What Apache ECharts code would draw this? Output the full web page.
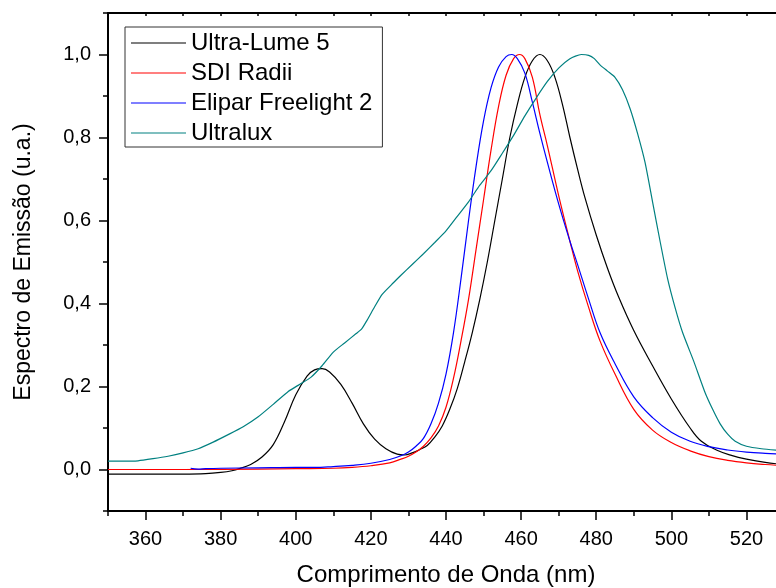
<!DOCTYPE html>
<html>
<head>
<meta charset="utf-8">
<script src="https://cdn.jsdelivr.net/npm/echarts@6/dist/echarts.min.js"></script>
<style>
html,body{margin:0;padding:0;background:#fff;}
#chart{width:776px;height:588px;}
</style>
</head>
<body>
<div id="chart"></div>
<script>
// tick labels
var xTicks = [360,380,400,420,440,460,480,500,520];
var yTicks = [0,0.2,0.4,0.6,0.8,1.0];

// Ultra-Lume 5 (black)
var ultraLumeNm = [350,360,370,376,380,383,385,388,391,394,397,400,403,405,407,409,412,415,418,421,424,427,429,431,433,435,437,439,441,443,445,447,449,451,453,455,457,459,461,463,465,467,469,471,473,475,477,480,483,486,490,495,500,505,508,512,516,520,525,530];
var ultraLumeVal = [-0.011,-0.011,-0.011,-0.01,-0.007,-0.003,0.002,0.012,0.03,0.06,0.115,0.18,0.225,0.24,0.243,0.235,0.205,0.16,0.11,0.073,0.05,0.037,0.035,0.04,0.048,0.058,0.078,0.105,0.145,0.195,0.26,0.33,0.41,0.5,0.6,0.7,0.8,0.88,0.945,0.985,1.0,0.985,0.945,0.88,0.8,0.725,0.655,0.565,0.485,0.415,0.335,0.25,0.17,0.1,0.068,0.047,0.034,0.025,0.017,0.012];

// SDI Radii (red)
var sdiNm = [350,370,390,400,410,415,420,425,428,430,432,434,436,438,440,442,444,446,448,450,452,454,456,458,459.6,461,463,465,467,470,473,475,478,481,485,490,495,500,505,510,515,520,525,530];
var sdiVal = [0,0,0.001,0.002,0.003,0.005,0.009,0.016,0.025,0.032,0.042,0.056,0.076,0.105,0.15,0.22,0.31,0.41,0.53,0.65,0.77,0.875,0.95,0.99,1.0,0.99,0.945,0.855,0.78,0.66,0.55,0.48,0.39,0.31,0.23,0.145,0.095,0.065,0.045,0.031,0.022,0.016,0.012,0.009];

// Elipar Freelight 2 (blue)
var eliparNm = [372,374,376,380,390,400,405,410,415,420,425,428,430,432,434,436,438,440,442,444,446,448,450,452,454,456,457.5,459,461,463,465,467,470,473,475,478,481,485,490,495,500,505,510,515,520,525,530];
var eliparVal = [0.003,0.001,0.002,0.003,0.004,0.005,0.005,0.007,0.01,0.015,0.024,0.033,0.042,0.056,0.075,0.11,0.16,0.23,0.33,0.46,0.6,0.73,0.84,0.92,0.97,0.995,1.0,0.99,0.955,0.885,0.81,0.74,0.64,0.55,0.495,0.41,0.33,0.255,0.175,0.125,0.09,0.068,0.055,0.047,0.042,0.039,0.037];

// Ultralux (teal)
var ultraluxNm = [350,354,358,362,366,370,374,378,382,386,390,394,398,401,404,407,410,413,416,417.5,419,421,423,426,428,431,434,437,440,443,446,449,452,455,458,461,464,467,470,473,476,478,479.5,481,483,485,487,489,491,493,495,497,499,501,503,506,509,511,513,515,517,520,524,530];
var ultraluxVal = [0.02,0.02,0.021,0.026,0.032,0.04,0.05,0.066,0.084,0.103,0.127,0.157,0.188,0.205,0.222,0.25,0.283,0.305,0.327,0.338,0.36,0.392,0.422,0.45,0.468,0.494,0.52,0.547,0.575,0.61,0.645,0.685,0.72,0.762,0.805,0.852,0.895,0.935,0.967,0.99,1.0,0.998,0.99,0.975,0.96,0.945,0.915,0.87,0.81,0.74,0.645,0.55,0.46,0.39,0.33,0.26,0.185,0.145,0.11,0.085,0.068,0.056,0.05,0.045];

function zip(a,b){
  var out=[];
  for(var i=0;i<a.length;i++){ out.push([a[i],b[i]]); }
  return out;
}

var font = 'Liberation Sans, Arial, sans-serif';
var myChart = echarts.init(document.getElementById('chart'));

var option = {
  animation:false,
  backgroundColor:'#fff',
  grid:{left:108, top:13, width:676, height:498, outerBoundsMode:'none', containLabel:false},
  legend:{
    orient:'vertical',
    left:125, top:27,
    padding:[4,10,2,6],
    itemGap:6,
    icon:'rect',
    itemWidth:55, itemHeight:1.2,
    borderColor:'#333', borderWidth:1,
    textStyle:{fontFamily:font, fontSize:24, color:'#000', lineHeight:24},
    data:['Ultra-Lume 5','SDI Radii','Elipar Freelight 2','Ultralux']
  },
  xAxis:[
    {
      type:'value', min:350, max:530, interval:10, position:'bottom',
      name:'Comprimento de Onda (nm)', nameLocation:'middle', nameGap:52,
      nameTextStyle:{fontFamily:font, fontSize:24, color:'#000'},
      axisLine:{onZero:false, lineStyle:{color:'#000', width:2}},
      axisTick:{length:5, lineStyle:{color:'#000', width:1.5}},
      axisLabel:{customValues:xTicks, margin:18, fontFamily:font, fontSize:20, color:'#000'},
      splitLine:{show:false}
    },
    {
      type:'value', min:350, max:530, interval:10, position:'bottom',
      axisLine:{show:false, onZero:false},
      axisTick:{customValues:xTicks, length:9, lineStyle:{color:'#000', width:1.5}},
      axisLabel:{show:false},
      splitLine:{show:false}
    },
    {
      type:'value', min:350, max:530, interval:10, position:'top',
      axisLine:{onZero:false, lineStyle:{color:'#000', width:2}},
      axisTick:{inside:true, length:3, lineStyle:{color:'#000', width:1.5}},
      axisLabel:{show:false},
      splitLine:{show:false}
    }
  ],
  yAxis:[
    {
      type:'value', min:-0.1, max:1.1, interval:0.1, position:'left',
      name:'Espectro de Emissão (u.a.)', nameLocation:'middle', nameGap:73,
      nameTextStyle:{fontFamily:font, fontSize:23, color:'#000'},
      axisLine:{onZero:false, lineStyle:{color:'#000', width:2}},
      axisTick:{length:5, lineStyle:{color:'#000', width:1.5}},
      axisLabel:{
        customValues:yTicks, margin:17, fontFamily:font, fontSize:20, color:'#000',
        formatter:function(v){ return v.toFixed(1).replace('.',','); }
      },
      splitLine:{show:false}
    },
    {
      type:'value', min:-0.1, max:1.1, interval:0.1, position:'left',
      axisLine:{show:false, onZero:false},
      axisTick:{customValues:yTicks, length:9, lineStyle:{color:'#000', width:1.5}},
      axisLabel:{show:false},
      splitLine:{show:false}
    }
  ],
  series:[
    {name:'Ultra-Lume 5', type:'line', symbol:'none', smooth:0.4, data:zip(ultraLumeNm,ultraLumeVal),
     lineStyle:{color:'#000000', width:1.2}, itemStyle:{color:'#000000'}},
    {name:'SDI Radii', type:'line', symbol:'none', smooth:0.4, data:zip(sdiNm,sdiVal),
     lineStyle:{color:'#ff0000', width:1.2}, itemStyle:{color:'#ff0000'}},
    {name:'Elipar Freelight 2', type:'line', symbol:'none', smooth:0.4, data:zip(eliparNm,eliparVal),
     lineStyle:{color:'#0000ff', width:1.2}, itemStyle:{color:'#0000ff'}},
    {name:'Ultralux', type:'line', symbol:'none', smooth:0.2, data:zip(ultraluxNm,ultraluxVal),
     lineStyle:{color:'#008080', width:1.2}, itemStyle:{color:'#008080'}}
  ]
};
myChart.setOption(option);
</script>
</body>
</html>
